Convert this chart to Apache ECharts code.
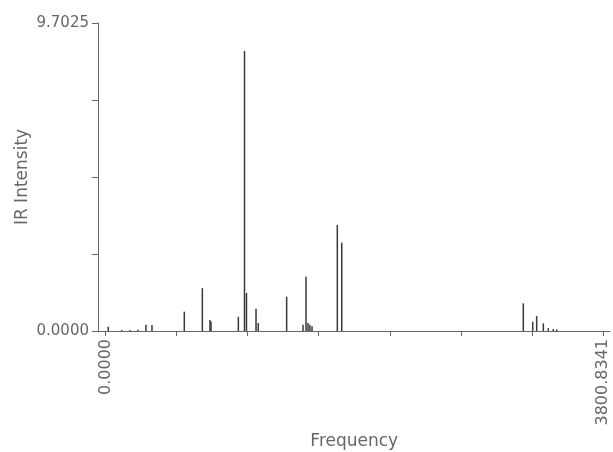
<!DOCTYPE html>
<html>
  <head>
    <meta charset="utf-8">
    <title>IR Spectrum</title>
    <script src="https://cdn.jsdelivr.net/npm/echarts@6/dist/echarts.min.js"></script>
    <style>
      html, body { margin: 0; padding: 0; background: #fff; }
      #chart { width: 613px; height: 452px; }
    </style>
  </head>
  <body>
    <div id="chart"></div>
    <script>
      // frequencies (cm-1) and intensities
      var frequencies = [21, 124, 187, 248, 309, 355, 602, 740, 798, 806, 1015, 1062, 1077, 1150, 1167,
        1384, 1509, 1532, 1547, 1562, 1578, 1771, 1805, 3192, 3264, 3294, 3345, 3383, 3421, 3447]
      var intensities = [0.13, 0.03, 0.03, 0.04, 0.20, 0.19, 0.61, 1.35, 0.35, 0.30, 0.45, 8.8205, 1.20, 0.70, 0.25,
        1.08, 0.20, 1.71, 0.25, 0.20, 0.15, 3.34, 2.78, 0.87, 0.29, 0.47, 0.24, 0.09, 0.06, 0.05]

      var xMin = 0
      var xMax = 3800.8341
      var yMin = 0
      var yMax = 9.7025

      var sticks = frequencies.map(function (f, i) { return [f, intensities[i]] })

      var textColor = '#666'
      var lineColor = '#666'
      var font = 'DejaVu Sans'

      function endLabel(min, max) {
        return function (v) {
          if (Math.abs(v - min) < 1e-6) return min.toFixed(4)
          if (Math.abs(v - max) < 1e-6) return max.toFixed(4)
          return ''
        }
      }

      var chart = echarts.init(document.getElementById('chart'))
      chart.setOption({
        animation: false,
        backgroundColor: '#fff',
        grid: [
          // axis frame (lines run a bit past the data range)
          { left: 98, right: 3, top: 23, bottom: 121, outerBoundsMode: 'none', containLabel: false },
          // data area
          { left: 105.5, right: 10, top: 23, bottom: 121, outerBoundsMode: 'none', containLabel: false }
        ],
        xAxis: [
          {
            type: 'value', gridIndex: 0, min: 0, max: 1,
            axisLine: { show: true, lineStyle: { color: lineColor, width: 1 } },
            axisTick: { show: false },
            axisLabel: { show: false },
            splitLine: { show: false }
          },
          {
            type: 'value', gridIndex: 1, min: xMin, max: xMax, interval: (xMax - xMin) / 7,
            name: 'Frequency', nameLocation: 'middle', nameGap: 102, nameMoveOverlap: false,
            nameTextStyle: { color: textColor, fontSize: 17, fontFamily: font },
            axisLine: { show: false },
            axisTick: { show: true, length: 5, lineStyle: { color: lineColor } },
            axisLabel: {
              rotate: 90, margin: 8, color: textColor, fontSize: 16, fontFamily: font,
              formatter: endLabel(xMin, xMax)
            },
            splitLine: { show: false }
          }
        ],
        yAxis: [
          {
            type: 'value', gridIndex: 0, min: yMin, max: yMax, interval: (yMax - yMin) / 4,
            name: 'IR Intensity', nameLocation: 'middle', nameGap: 67, nameRotate: 90, nameMoveOverlap: false,
            nameTextStyle: { color: textColor, fontSize: 17, fontFamily: font },
            axisLine: { show: true, lineStyle: { color: lineColor, width: 1 } },
            axisTick: { show: true, length: 6, lineStyle: { color: lineColor } },
            axisLabel: {
              margin: 9, color: textColor, fontSize: 15, fontFamily: font,
              formatter: endLabel(yMin, yMax)
            },
            splitLine: { show: false }
          },
          {
            type: 'value', gridIndex: 1, min: yMin, max: yMax, show: false,
            splitLine: { show: false }
          }
        ],
        series: [
          {
            type: 'bar',
            xAxisIndex: 1,
            yAxisIndex: 1,
            barWidth: 1.5,
            itemStyle: { color: '#3a3a3a' },
            data: sticks
          }
        ]
      })
    </script>
  </body>
</html>
